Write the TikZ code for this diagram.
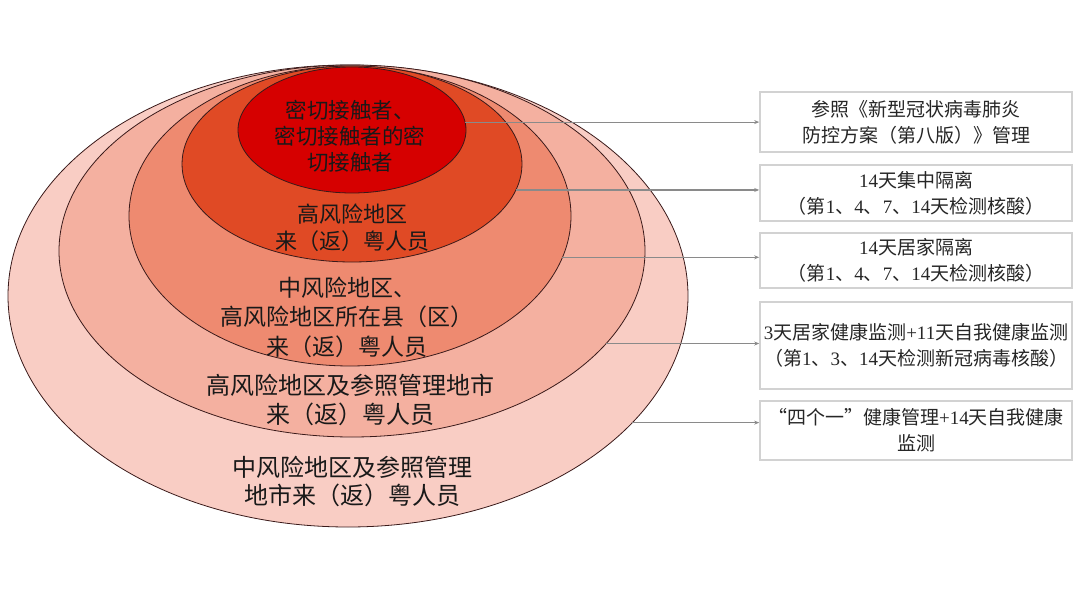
\documentclass[tikz,border=0pt]{standalone}
\usepackage{fontspec}
\newfontfamily\cjk{Noto Sans CJK SC}
\newfontfamily\latin{Liberation Serif}
\usetikzlibrary{positioning, shapes.geometric}
\usetikzlibrary{arrows, arrows.meta}
\definecolor{zoneA}{HTML}{D60000}
\definecolor{zoneB}{HTML}{E04A25}
\definecolor{zoneC}{HTML}{EE8A70}
\definecolor{zoneD}{HTML}{F4B0A0}
\definecolor{zoneE}{HTML}{F9CDC4}
\definecolor{zoneline}{HTML}{3A1A1A}
\definecolor{boxline}{HTML}{D2D2D2}
\definecolor{connline}{HTML}{8A8A8A}
\newcommand{\zsize}[2]{\fontsize{#1}{#2}\selectfont}

\begin{document}
\begin{tikzpicture}[x=1pt, y=-1pt,
    zone/.style={ellipse, draw=zoneline, line width=0.8pt, inner sep=0pt, outer sep=0pt},
    ztext/.style={align=center, text=black!90, font=\cjk},
    rbox/.style={draw=boxline, line width=1.6pt, minimum width=312pt, inner sep=0pt,
      align=center, text=black!85, font=\cjk\zsize{19}{26}},
    conn/.style={draw=connline, line width=1.1pt, -{Stealth[length=5pt, width=4pt]}}]
        \useasboundingbox (0,0) rectangle (1080,591);
        % nested zones, outermost first
        \foreach \zn/\cx/\cy/\wd/\ht/\col in {5/348/296/680/462/zoneE, 4/352/251/586/372/zoneD,
          3/350/216/442/300/zoneC, 2/352/164/340/196/zoneB, 1/352/130/228/126/zoneA} {
          \node[zone, fill=\col, minimum width=\wd pt, minimum height=\ht pt] (e\zn) at (\cx,\cy) {};
        }
        % zone labels
        \node[ztext, font=\cjk\zsize{21.5}{26}] (t1) at (350,136) {密切接触者、\\密切接触者的密\\切接触者};
        \node[ztext, font=\cjk\zsize{22}{27}] (t2) at (352,228) {高风险地区\\来（返）粤人员};
        \node[ztext, font=\cjk\zsize{23}{29.5}] (t3) at (347,317) {中风险地区、\\高风险地区所在县（区）\\来（返）粤人员};
        \node[ztext, font=\cjk\zsize{24}{29}] (t4) at (350,400) {高风险地区及参照管理地市\\来（返）粤人员};
        \node[ztext, font=\cjk\zsize{24}{28}] (t5) at (352,481) {中风险地区及参照管理\\地市来（返）粤人员};
        % measures
        \node[rbox, minimum height=60pt] (b1) at (916,122) {参照《新型冠状病毒肺炎\\防控方案（第八版）》管理};
        \node[rbox, minimum height=56pt] (b2) at (916,193) {{\latin 14}天集中隔离\\（第{\latin 1}、{\latin 4}、{\latin 7}、{\latin 14}天检测核酸）};
        \node[rbox, minimum height=55pt] (b3) at (916,260.5) {{\latin 14}天居家隔离\\（第{\latin 1}、{\latin 4}、{\latin 7}、{\latin 14}天检测核酸）};
        \node[rbox, minimum height=87pt] (b4) at (916,345.5) {{\latin 3}天居家健康监测{\latin +11}天自我健康监测\\（第{\latin 1}、{\latin 3}、{\latin 14}天检测新冠病毒核酸）};
        \node[rbox, minimum height=59pt] (b5) at (916,430.5) {“四个一”健康管理{\latin +14}天自我健康\\监测};
        % connectors
        \foreach \zn/\ang in {1/4, 2/-9.8, 3/-11.8, 4/-20.7, 5/-24.8} {
          \draw[conn] (e\zn.\ang) -- (e\zn.\ang -| b\zn.west);
        }
\end{tikzpicture}
\end{document}
